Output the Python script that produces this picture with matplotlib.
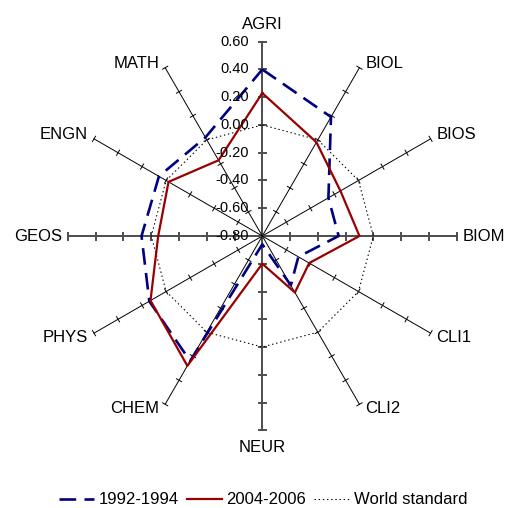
import numpy as np
import matplotlib
matplotlib.use('Agg')
import matplotlib.pyplot as plt
from matplotlib.lines import Line2D

plt.rcParams['font.family'] = ['Liberation Sans', 'DejaVu Sans']
plt.rcParams['lines.scale_dashes'] = False

# radar data, one value per field
categories = ['AGRI', 'BIOL', 'BIOS', 'BIOM', 'CLI1', 'CLI2',
              'NEUR', 'CHEM', 'PHYS', 'GEOS', 'ENGN', 'MATH']
y1992 = [0.40, 0.19, -0.25, -0.25, -0.50, -0.39, -0.74, 0.24, 0.14, 0.07, 0.06, 0.02]
y2004 = [0.23, -0.02, -0.15, -0.10, -0.41, -0.33, -0.60, 0.28, 0.13, -0.05, -0.02, -0.17]
world = [0.0] * 12
ticks = [-0.80, -0.60, -0.40, -0.20, 0.00, 0.20, 0.40, 0.60]

vmin, vmax = ticks[0], ticks[-1]
n = len(categories)
ang = np.pi / 2 - np.arange(n) * 2 * np.pi / n   # clockwise from the top


def xy(vals):
    r = np.asarray(vals) - vmin
    x = r * np.cos(ang)
    y = r * np.sin(ang)
    return np.append(x, x[0]), np.append(y, y[0])


W, H = 506, 508
cx, cy = 262.3, 236.0          # centre of the web in pixels
scale = 138.8                  # pixels per value unit
px = 1.0 / scale

fig = plt.figure(figsize=(W / 100, H / 100), dpi=100)
ax = fig.add_axes([0, 0, 1, 1])
ax.set_xlim(-cx / scale, (W - cx) / scale)
ax.set_ylim(-(H - cy) / scale, cy / scale)
ax.axis('off')

R = vmax - vmin
for i, a in enumerate(ang):
    c, s = np.cos(a), np.sin(a)
    straight = abs(c) < 1e-6 or abs(s) < 1e-6
    col = '#4d4d4d' if straight else 'black'
    lw = 1.4 if straight else 0.7
    tl = 3.5 * px if straight else 3.0 * px
    ax.plot([0, R * c], [0, R * s], color=col, lw=lw, zorder=1)
    # small cross ticks along each spoke
    for t in ticks[1:]:
        r = t - vmin
        ax.plot([r * c - tl * s, r * c + tl * s], [r * s + tl * c, r * s - tl * c],
                color=col, lw=lw, zorder=1)

# value labels beside the top spoke
for t in ticks:
    ax.text(-13 * px, t - vmin, f'{t:.2f}', ha='right', va='center',
            fontsize=10.5, zorder=3)

# field names around the outside
for name, a in zip(categories, ang):
    c, s = np.cos(a), np.sin(a)
    ex, ey = R * c, R * s
    if abs(c) < 1e-6:
        if s > 0:
            ax.text(ex, ey + 13 * px, name, ha='center', va='baseline', fontsize=12)
        else:
            ax.text(ex, ey - 10 * px, name, ha='center', va='top', fontsize=12)
        continue
    dy = 4 * px if s > 0.1 else (-4 * px if s < -0.1 else 0)
    if c > 0:
        ax.text(ex + 6 * px, ey + dy, name, ha='left', va='center', fontsize=12)
    else:
        ax.text(ex - 6 * px, ey + dy, name, ha='right', va='center', fontsize=12)

x, y = xy(world)
ax.plot(x, y, color='black', lw=0.8, dashes=(1, 2), zorder=2)
x, y = xy(y1992)
ax.plot(x, y, color='#000080', lw=1.9, dashes=(12, 6), zorder=2)
x, y = xy(y2004)
ax.plot(x, y, color='#990000', lw=1.6, zorder=2)

handles = [
    Line2D([], [], color='#000080', lw=1.9, dashes=(12, 6)),
    Line2D([], [], color='#990000', lw=1.6),
    Line2D([], [], color='black', lw=0.8, dashes=(1, 2)),
]
fig.legend(handles, ['1992-1994', '2004-2006', 'World standard'],
           loc='center', bbox_to_anchor=(0.52, (H - 500) / H), ncol=3,
           frameon=False, fontsize=12, handlelength=2.1, handletextpad=0.3,
           columnspacing=0.45, borderaxespad=0)

fig.savefig('out.png', dpi=100)
